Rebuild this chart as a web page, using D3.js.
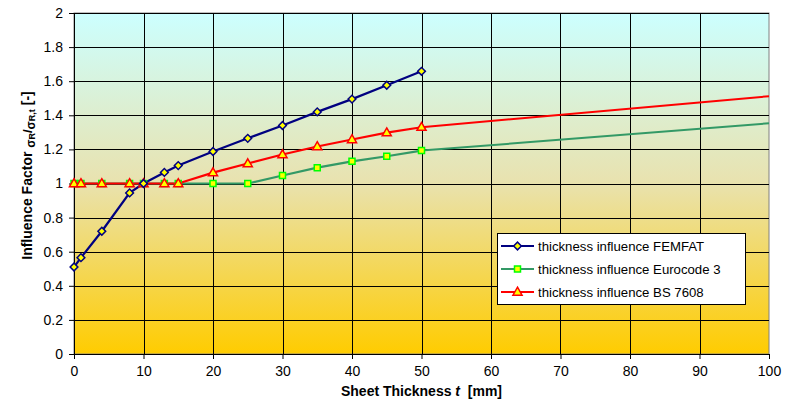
<!DOCTYPE html>
<html>
<head>
<meta charset="utf-8">
<script src="https://cdn.jsdelivr.net/npm/d3@7"></script>
<style>
  body { margin: 0; background: #fff; }
  text { font-family: "Liberation Sans", Arial, sans-serif; }
</style>
</head>
<body>
<div id="chart"></div>
<script>
// data
var thickness = [0, 1, 4, 8, 10, 13, 15, 20, 25, 30, 35, 40, 45, 50];
var femfat    = [0.51, 0.565, 0.72, 0.945, 1.0, 1.065, 1.105, 1.188, 1.265, 1.34, 1.42, 1.495, 1.576, 1.658];
var eurocode  = [1, 1, 1, 1, 1, 1, 1, 1, 1, 1.047, 1.093, 1.13, 1.16, 1.193];
var bs7608    = [1, 1, 1, 1, 1, 1, 1, 1.064, 1.117, 1.17, 1.217, 1.258, 1.298, 1.33];
// straight-line extension of the code curves to 100 mm (no markers)
var extX = [50, 100];
var eurocodeExt = [1.193, 1.353];
var bs7608Ext   = [1.33, 1.512];

var xTicks = [0, 10, 20, 30, 40, 50, 60, 70, 80, 90, 100];
var yTicks = [0, 0.2, 0.4, 0.6, 0.8, 1, 1.2, 1.4, 1.6, 1.8, 2];
var seriesNames = ["thickness influence FEMFAT", "thickness influence Eurocode 3", "thickness influence BS 7608"];

var margin = {top: 13, right: 21, bottom: 46, left: 74},
    width = 790 - margin.left - margin.right,
    height = 400 - margin.top - margin.bottom;

var svg = d3.select("#chart")
    .append("svg")
    .attr("width", 790)
    .attr("height", 400)
    .append("g")
    .attr("transform", "translate(" + margin.left + "," + margin.top + ")");

var x = d3.scaleLinear().domain([0, 100]).range([0, width]);
var y = d3.scaleLinear().domain([0, 2]).range([height, 0]);

// background gradient
var grad = svg.append("defs").append("linearGradient")
    .attr("id", "bg")
    .attr("x1", 0).attr("y1", 0).attr("x2", 0).attr("y2", 1);
grad.append("stop").attr("offset", "0%").attr("stop-color", "#ccffff");
grad.append("stop").attr("offset", "50%").attr("stop-color", "#e9e2ae");
grad.append("stop").attr("offset", "100%").attr("stop-color", "#ffcc00");

svg.append("rect")
    .attr("width", width)
    .attr("height", height)
    .attr("fill", "url(#bg)")
    .attr("stroke", "#808080");

// grid
svg.append("g").selectAll("line")
    .data(yTicks.slice(1))
    .enter().append("line")
    .attr("x1", 0).attr("x2", width)
    .attr("y1", d => Math.round(y(d)) + 0.5).attr("y2", d => Math.round(y(d)) + 0.5)
    .attr("stroke", "#000").attr("stroke-width", 1);

svg.append("g").selectAll("line")
    .data(xTicks.slice(1, -1))
    .enter().append("line")
    .attr("y1", 0).attr("y2", height)
    .attr("x1", d => Math.round(x(d)) + 0.5).attr("x2", d => Math.round(x(d)) + 0.5)
    .attr("stroke", "#000").attr("stroke-width", 1);

// axes
var xAxis = svg.append("g")
    .attr("transform", "translate(0," + height + ")")
    .call(d3.axisBottom(x).tickValues(xTicks).tickSize(5).tickSizeOuter(0).tickPadding(7));
var yAxis = svg.append("g")
    .call(d3.axisLeft(y).tickValues(yTicks).tickSize(5).tickSizeOuter(0).tickPadding(6).tickFormat(d3.format("")));

[xAxis, yAxis].forEach(function (a) {
    a.selectAll("text").style("font-size", "14px").attr("fill", "#000");
    a.selectAll("line").attr("stroke", "#000");
    a.select(".domain").attr("stroke", "#000");
});

// lines
var line = d3.line()
    .x(d => x(d[0]))
    .y(d => y(d[1]));

var colors = ["#000080", "#339966", "#ff0000"];
var datasets = [femfat, eurocode, bs7608];

svg.append("path").datum(d3.zip(extX, eurocodeExt))
    .attr("fill", "none").attr("stroke", colors[1]).attr("stroke-width", 2).attr("d", line);
svg.append("path").datum(d3.zip(extX, bs7608Ext))
    .attr("fill", "none").attr("stroke", colors[2]).attr("stroke-width", 2).attr("d", line);

// draw order: green, red, blue
[1, 2, 0].forEach(function (i) {
    svg.append("path")
        .datum(d3.zip(thickness, datasets[i]))
        .attr("fill", "none")
        .attr("stroke", colors[i])
        .attr("stroke-width", 2.2)
        .attr("d", line);
});

var symbols = [
    {type: d3.symbolSquare, size: 30, rot: 45, fill: "#ffff00", stroke: "#000080"},
    {type: d3.symbolSquare, size: 36, rot: 0, fill: "#ffff00", stroke: "#00ff00"},
    {type: d3.symbolTriangle, size: 36, rot: 0, fill: "#ffff00", stroke: "#ff0000"}
];

function drawMarker(g, i, px, py) {
    var s = symbols[i];
    return g.append("path")
        .attr("d", d3.symbol().type(s.type).size(s.size))
        .attr("fill", s.fill)
        .attr("stroke", s.stroke)
        .attr("stroke-width", 1.5)
        .attr("transform", "translate(" + px + "," + (py + (i == 2 ? 0.5 : 0)) + ") rotate(" + s.rot + ")");
}

[1, 2, 0].forEach(function (i) {
    d3.zip(thickness, datasets[i]).forEach(function (d) {
        drawMarker(svg, i, x(d[0]), y(d[1]));
    });
});

// axis titles
svg.append("text")
    .attr("x", width / 2)
    .attr("y", height + 42)
    .attr("text-anchor", "middle")
    .style("font-size", "14px")
    .style("font-weight", "bold")
    .call(function (t) {
        t.append("tspan").text("Sheet Thickness ");
        t.append("tspan").style("font-style", "italic").text("t");
        t.append("tspan").text("\u00a0 [mm]");
    });

var yTitle = svg.append("text")
    .attr("transform", "translate(" + (-42) + "," + (height / 2 - 8) + ") rotate(-90)")
    .attr("text-anchor", "middle")
    .style("font-size", "14px")
    .style("font-weight", "bold");
yTitle.append("tspan").text("Influence Factor ");
yTitle.append("tspan").attr("dy", 3).style("font-size", "12px").text("σ");
yTitle.append("tspan").style("font-size", "9px").text("R");
yTitle.append("tspan").attr("dy", -3).style("font-size", "13px").text("/");
yTitle.append("tspan").attr("dy", 3).style("font-size", "12px").text("σ");
yTitle.append("tspan").style("font-size", "9px").text("R,t");
yTitle.append("tspan").attr("dy", -3).text(" [-]");

// legend
var legend = svg.append("g").attr("transform", "translate(" + (497 - margin.left) + "," + (233 - margin.top) + ")");
legend.append("rect")
    .attr("x", 0.5).attr("y", 0.5)
    .attr("width", 248).attr("height", 71)
    .attr("fill", "#fff").attr("stroke", "#000");

seriesNames.forEach(function (name, i) {
    var row = legend.append("g").attr("transform", "translate(0," + (13 + i * 23) + ")");
    row.append("line")
        .attr("x1", 4).attr("x2", 37)
        .attr("stroke", colors[i]).attr("stroke-width", 2.2);
    drawMarker(row, i, 20.5, 0);
    row.append("text")
        .attr("x", 41).attr("y", 5)
        .style("font-size", "13.2px")
        .text(name);
});
</script>
</body>
</html>
